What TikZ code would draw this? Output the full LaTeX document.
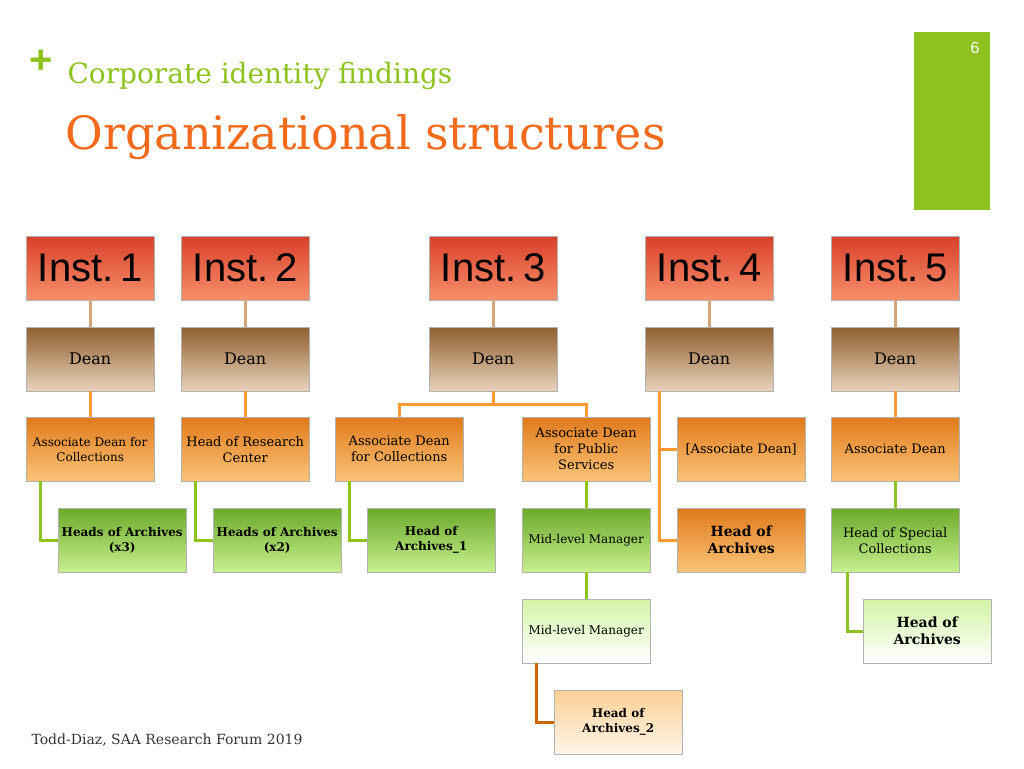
\documentclass[tikz,border=0pt]{standalone}
\usepackage{fontspec}
\setmainfont{DejaVu Serif}
\newfontfamily\instfont{Liberation Sans}
\newfontfamily\hdfont{DejaVu Serif}
\definecolor{gr}{HTML}{8DC21F}
\definecolor{og}{HTML}{F26B1D}
\definecolor{instT}{HTML}{D8402A}
\definecolor{instB}{HTML}{F7906A}
\definecolor{oraT}{HTML}{E07A1C}
\definecolor{oraB}{HTML}{FBC478}
\definecolor{grT}{HTML}{6BAA2A}
\definecolor{grB}{HTML}{C8F090}
\begin{document}
\begin{tikzpicture}[x=1pt,y=-1pt,
 bx/.style={draw=gray!60,minimum width=128pt,minimum height=64pt,anchor=north west,align=center,inner sep=1pt},
 inst/.style={bx,top color=instT,bottom color=instB,font=\instfont\fontsize{40}{40}\selectfont},
 dean/.style={bx,top color=brown!75!black,bottom color=brown!35,font=\fontsize{16}{18}\selectfont},
 ora/.style={bx,top color=oraT,bottom color=oraB,font=\fontsize{13}{16}\selectfont},
 grn/.style={bx,top color=grT,bottom color=grB,font=\bfseries\fontsize{12}{15}\selectfont},
 lgr/.style={bx,top color=grB!80,bottom color=white,font=\fontsize{12}{15}\selectfont},
 lor/.style={bx,top color=oraB!80,bottom color=orange!8,font=\bfseries\fontsize{12}{15}\selectfont},
 lb/.style={line width=3pt,draw=brown!70},
 lo/.style={line width=3pt,draw=orange!80},
 lg/.style={line width=3pt,draw=gr},
 ld/.style={line width=3pt,draw=orange!80!black}]
\useasboundingbox (0,0) rectangle (1024,768);
\fill[gr] (914,32) rectangle (990,210);
\node[white,font=\instfont\fontsize{16}{16}\selectfont] (pg) at (975,48) {6};
\node[gr,font=\instfont\bfseries\fontsize{40}{40}\selectfont] (plus) at (41,62) {+};
\node[anchor=west,gr,font=\hdfont\fontsize{28}{28}\selectfont] (t1) at (64,76) {Corporate identity findings};
\node[anchor=west,og,font=\hdfont\fontsize{46}{46}\selectfont] (t2) at (62,137) {Organizational structures};
\node[anchor=west,gray!40!black,font=\hdfont\fontsize{14}{14}\selectfont] (ft) at (28,740) {Todd-Diaz, SAA Research Forum 2019};
\foreach \n/\x in {1/26,2/181,3/429,4/645,5/831}{
 \node[inst] (i\n) at (\x,236) {Inst.\,\n};
 \node[dean] (d\n) at (\x,327) {Dean};
 \draw[lb] (i\n.south) -- (d\n.north);
}
\node[ora,font=\fontsize{12}{15}\selectfont] (a1) at (26,417) {Associate Dean for\\Collections};
\node[ora] (a2) at (181,417) {Head of Research\\Center};
\node[ora] (a3) at (335,417) {Associate Dean\\for Collections};
\node[ora] (a4) at (522,417) {Associate Dean\\for Public\\Services};
\node[ora] (a5) at (677,417) {[Associate Dean]};
\node[ora] (a6) at (831,417) {Associate Dean};
\node[grn] (g1) at (58,508) {Heads of Archives\\(x3)};
\node[grn] (g2) at (213,508) {Heads of Archives\\(x2)};
\node[grn] (g3) at (367,508) {Head of\\Archives\_1};
\node[grn,font=\fontsize{12}{15}\selectfont] (m1) at (522,508) {Mid-level Manager};
\node[ora,font=\bfseries\fontsize{14}{17}\selectfont] (h4) at (677,508) {Head of\\Archives};
\node[grn,font=\fontsize{13}{16}\selectfont] (h5) at (831,508) {Head of Special\\Collections};
\node[lgr] (m2) at (522,599) {Mid-level Manager};
\node[lgr,font=\bfseries\fontsize{14}{17}\selectfont] (h6) at (863,599) {Head of\\Archives};
\node[lor] (h7) at (554,690) {Head of\\Archives\_2};
\draw[lo] (d1.south) -- (a1.north);
\draw[lo] (d2.south) -- (a2.north);
\draw[lo] (d3.south) -- ++(0,13) -| (a3.north);
\draw[lo] (d3.south) -- ++(0,13) -| (a4.north);
\draw[lo] ([xshift=14pt]d4.south west) |- (a5.west);
\draw[lo] ([xshift=14pt]d4.south west) |- (h4.west);
\draw[lo] (d5.south) -- (a6.north);
\draw[lg] ([xshift=14pt]a1.south west) |- (g1.west);
\draw[lg] ([xshift=14pt]a2.south west) |- (g2.west);
\draw[lg] ([xshift=14pt]a3.south west) |- (g3.west);
\draw[lg] (a4.south) -- (m1.north);
\draw[lg] (a6.south) -- (h5.north);
\draw[lg] (m1.south) -- (m2.north);
\draw[lg] ([xshift=16pt]h5.south west) |- (h6.west);
\draw[ld] ([xshift=14pt]m2.south west) |- (h7.west);
\end{tikzpicture}
\end{document}
